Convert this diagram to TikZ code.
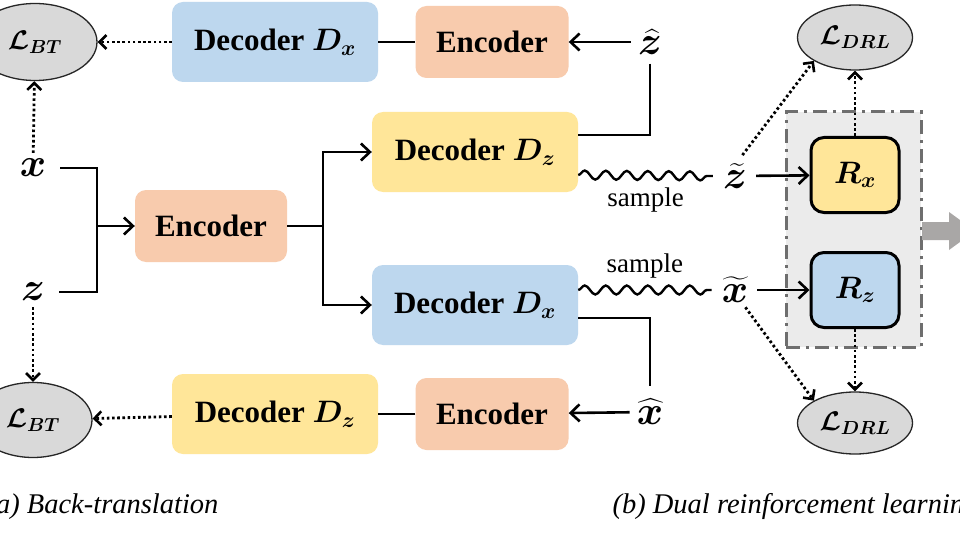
\RequirePackage{fix-cm}
\documentclass[tikz,border=0pt]{standalone}
\usepackage{fontspec}
\setmainfont{Liberation Serif}
\usepackage{amsmath,bm}
\usetikzlibrary{arrows.meta,decorations.pathmorphing,shapes.geometric}
\definecolor{cblue}{HTML}{BDD7EE}
\definecolor{corange}{HTML}{F8CBAD}
\definecolor{cyellow}{HTML}{FFE699}
\definecolor{cgray}{HTML}{D9D9D9}
\definecolor{cbg}{HTML}{EBEBEB}
\definecolor{cdash}{HTML}{6E6E6E}
\definecolor{carrow}{HTML}{A9A7A6}
\tikzset{
  mybox/.style={rounded corners=11pt, minimum width=206pt, minimum height=80pt, inner sep=0pt,
    font=\fontsize{31}{36}\selectfont\bfseries},
  decx/.style={mybox, fill=cblue},
  decz/.style={mybox, fill=cyellow},
  enc/.style={mybox, fill=corange, minimum width=153pt, minimum height=72pt},
  loss/.style={ellipse, draw=black!85, line width=1.3pt, fill=cgray, inner sep=0pt,
    font=\fontsize{27}{30}\selectfont},
  rbox/.style={rounded corners=13pt, draw=black, line width=3pt, minimum width=88pt,
    minimum height=75pt, inner sep=0pt, font=\fontsize{31}{34}\selectfont},
  varnode/.style={font=\fontsize{40}{44}\selectfont, inner sep=1pt},
  conn/.style={line width=2.6pt},
  arr/.style={line width=2.6pt, -{Straight Barb[length=9pt,width=17pt,line width=2.6pt]}},
  dotarr/.style={line width=2.8pt, dash pattern=on 2.6pt off 2.6pt,
    -{Straight Barb[length=7pt,width=14pt,line width=2.6pt]}},
  wavy/.style={line width=2.4pt, decorate, decoration={snake, amplitude=4.5pt, segment length=21pt}},
  lbl/.style={font=\fontsize{27}{30}\selectfont},
  captxt/.style={font=\fontsize{28.5}{32}\selectfont\itshape}
}
\begin{document}
\begin{tikzpicture}[x=1pt, y=-1pt]
\useasboundingbox (0,0) rectangle (960,540);
\clip (0,0) rectangle (960,540);
\fill[white] (0,0) rectangle (960,540);

% background box for rewards
\node[draw=cdash, fill=cbg, line width=3pt, dash pattern=on 14pt off 6pt on 3pt off 6pt,
      minimum width=135pt, minimum height=235pt, inner sep=0pt] (bg) at (853.5,229.5) {};

% gray arrow on the right
\fill[carrow] (922,222) -- (949,222) -- (949,212) -- (975,231) -- (949,250) -- (949,240) -- (922,240) -- cycle;

% nodes
\node[loss, minimum width=124pt, minimum height=77pt] (LBTt) at (35,42) {$\bm{\mathcal{L}}_{\bm{BT}}$};
\node[decx] (DXt) at (275,42) {Decoder $\bm{D}_{\bm{x}}$};
\node[enc] (Et) at (492,42) {Encoder};
\node[varnode] (zh) at (650,42) {$\widehat{\bm{z}}$};

\node[varnode] (x) at (33,168) {$\bm{x}$};
\node[varnode] (z) at (33,292) {$\bm{z}$};
\node[enc, minimum width=152pt] (E) at (211,226) {Encoder};
\node[decz] (DZ) at (475,152) {Decoder $\bm{D}_{\bm{z}}$};
\node[decx] (DX) at (475,305) {Decoder $\bm{D}_{\bm{x}}$};

\node[varnode] (zt) at (735,176) {$\widetilde{\bm{z}}$};
\node[varnode] (xt) at (735,290) {$\widetilde{\bm{x}}$};
\node[rbox, fill=cyellow] (Rx) at (855,175) {$\bm{R}_{\bm{x}}$};
\node[rbox, fill=cblue] (Rz) at (855,290) {$\bm{R}_{\bm{z}}$};
\node[loss, minimum width=115pt, minimum height=65pt] (LDt) at (855,37.5) {$\bm{\mathcal{L}}_{\bm{DRL}}$};
\node[loss, minimum width=115pt, minimum height=62pt] (LDb) at (855,423) {$\bm{\mathcal{L}}_{\bm{DRL}}$};

\node[loss, minimum width=118pt, minimum height=75pt] (LBTb) at (33,420) {$\bm{\mathcal{L}}_{\bm{BT}}$};
\node[decz] (DZb) at (275,414) {Decoder $\bm{D}_{\bm{z}}$};
\node[enc] (Eb) at (492,414) {Encoder};
\node[varnode] (xh) at (650,412) {$\widehat{\bm{x}}$};

% captions
\node[captxt, anchor=base east] (capa) at (222,513) {(a) Back-translation};
\node[captxt, anchor=base west] (capb) at (609,513) {(b) Dual reinforcement learning};

% connectors: top row
\draw[dotarr] (DXt) -- (LBTt);
\draw[conn] (DXt) -- (Et);
\draw[arr, shorten <=6pt] (zh) -- (Et);
\draw[conn, shorten <=8pt] (zh.south) |- ([yshift=17pt]DZ.east);

% middle
\coordinate (jm) at (97,226);
\coordinate (js) at (323,226);
\draw[conn, shorten <=13pt] (x.east) -| (jm);
\draw[conn, shorten <=13pt] (z.east) -| (jm);
\draw[arr] (jm) -- (E);
\draw[conn] (E) -- (js);
\draw[arr] (js) |- (DZ.west);
\draw[arr] (js) |- (DX.west);
\draw[dotarr, shorten <=5pt] (x) -- (LBTt);
\draw[dotarr, shorten <=5pt] (z) -- (LBTb);

% samples
\draw[wavy] ([yshift=-23pt]DZ.east) -- node[lbl, below=8pt] (s1) {sample} ([xshift=-9pt]zt.west);
\draw[wavy] ([yshift=15pt]DX.east) -- node[lbl, above=7pt] (s2) {sample} ([xshift=-9pt]xt.west);
\draw[conn, shorten >=12pt] ([yshift=-13pt]DX.east) -| (xh.north);

% bottom row
\draw[arr, shorten <=6pt] (xh) -- (Eb);
\draw[conn] (Eb) -- (DZb);
\draw[dotarr] (DZb) -- (LBTb);

% rewards
\draw[arr, shorten <=8pt] (zt) -- (Rx);
\draw[arr, shorten <=8pt] (xt) -- (Rz);
\draw[dotarr] (Rx) -- (LDt);
\draw[dotarr] (Rz) -- (LDb);
\draw[dotarr, shorten <=9pt] ([xshift=2pt]zt.north) -- (LDt.south west);
\draw[dotarr, shorten <=4pt] ([xshift=8pt]xt.south) -- (LDb.north west);
\end{tikzpicture}
\end{document}
